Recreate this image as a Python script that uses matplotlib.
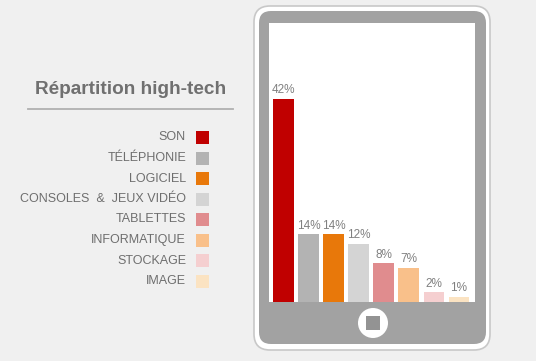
import matplotlib.pyplot as plt
from matplotlib.patches import FancyBboxPatch, Rectangle, Circle
import numpy as np

# données
categories = ['SON', 'TÉLÉPHONIE', 'LOGICIEL', 'CONSOLES  &  JEUX VIDÉO',
              'TABLETTES', 'INFORMATIQUE', 'STOCKAGE', 'IMAGE']
values = [42, 14, 14, 12, 8, 7, 2, 1]
colors = ['#c00000', '#b3b3b3', '#e8780a', '#d4d4d4',
          '#e08c8e', '#f9c08a', '#f5cfd0', '#fbe3c2']
title = 'Répartition high-tech'

W, H = 536, 361
fig = plt.figure(figsize=(W / 100, H / 100), dpi=100)
fig.patch.set_facecolor('#f0f0f0')

# fond en pixels (tablette + légende)
bg = fig.add_axes([0, 0, 1, 1])
bg.set_xlim(0, W)
bg.set_ylim(H, 0)
bg.axis('off')

bg.add_patch(FancyBboxPatch((254, 6), 236, 344, boxstyle='round,pad=0,rounding_size=16',
                            fc='white', ec='#c8c8c8', lw=1.2))
bg.add_patch(FancyBboxPatch((259, 11), 227, 333, boxstyle='round,pad=0,rounding_size=12',
                            fc='#a2a2a2', ec='none'))
bg.add_patch(Circle((373, 323), 15, fc='white', ec='none'))
bg.add_patch(Rectangle((366, 316), 14, 14, fc='#939393', ec='none'))

# titre + trait
bg.text(131, 90, title, ha='center', va='center', fontsize=13.7, fontweight='bold',
        color='#707070', family='Liberation Sans')
bg.plot([28, 233], [109, 109], color='#b0b0b0', lw=1.3)

# légende
for i, (cat, col) in enumerate(zip(categories, colors)):
    y = 137.5 + i * 20.5
    bg.add_patch(Rectangle((196, y - 6.5), 13, 13, fc=col, ec='none'))
    bg.text(186, y, cat, ha='right', va='center', fontsize=9, color='#6e6e6e',
            family='Liberation Sans')

# barres dans l'écran
ax = fig.add_axes([269 / W, 1 - 302 / H, 206 / W, 279 / H])
ax.set_facecolor('white')
x = np.arange(len(values))
bars = ax.bar(x, values, width=0.83, color=colors)
ax.set_xlim(-0.58, 7.64)
ax.set_ylim(0, 42 * 279 / 203)
for b, v in zip(bars, values):
    ax.annotate(f'{v}%', (b.get_x() + b.get_width() / 2, v), xytext=(0, 2),
                textcoords='offset points', ha='center', va='bottom',
                fontsize=8.5, color='#808080', family='Liberation Sans')
ax.set_xticks([])
ax.set_yticks([])
for s in ax.spines.values():
    s.set_visible(False)

plt.savefig('out.png', dpi=100, facecolor=fig.get_facecolor())
